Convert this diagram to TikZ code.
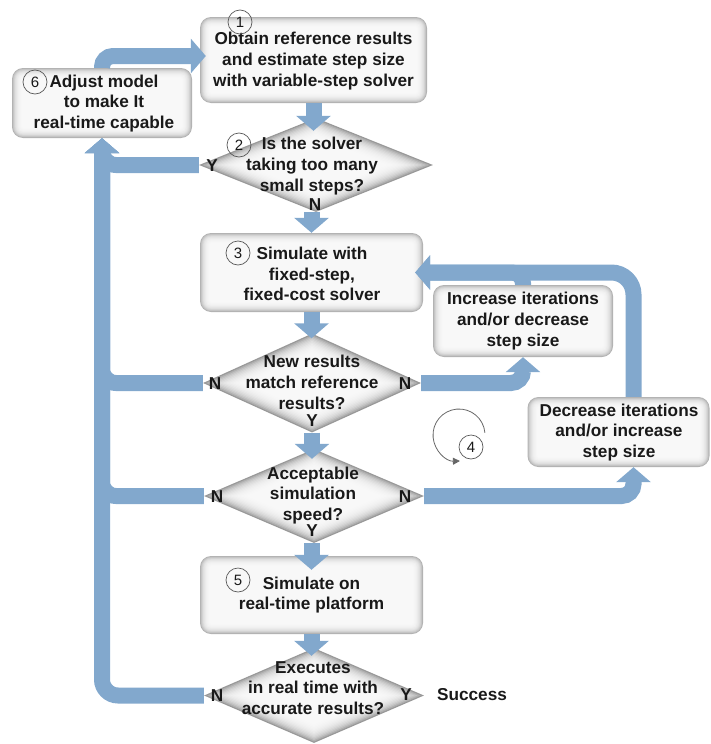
\documentclass[tikz,border=0pt]{standalone}
\usepackage{fontspec}
\setmainfont{Liberation Sans}
\usetikzlibrary{arrows.meta,shapes.geometric,calc}
\definecolor{band}{RGB}{130,168,205}
\definecolor{ink}{RGB}{25,25,25}
\tikzset{
  box/.style={rectangle, rounded corners=11pt, fill=black!30, inner sep=0pt,
    path picture={
      \foreach \i/\r in {0.8/10.2,1.6/9.4,2.4/8.6,3.2/7.8,4/7,4.8/6.2,5.6/5.4,6.4/4.6,7.2/4,8/3.5,8.8/3,9.6/3}{
        \fill[white, fill opacity=0.2, rounded corners=\r pt]
          ([shift={(\i pt,\i pt)}]path picture bounding box.south west) rectangle
          ([shift={(-\i pt,-\i pt)}]path picture bounding box.north east);
      }}},
  dia/.style={diamond, fill=black!40, inner sep=0pt,
    path picture={
      \foreach \s in {0.97,0.94,0.91,0.88,0.85,0.82,0.79,0.76,0.73,0.70,0.67,0.64,0.61}{
        \fill[white, fill opacity=0.22]
          ($(path picture bounding box.center)!\s!(path picture bounding box.north)$) --
          ($(path picture bounding box.center)!\s!(path picture bounding box.east)$) --
          ($(path picture bounding box.center)!\s!(path picture bounding box.south)$) --
          ($(path picture bounding box.center)!\s!(path picture bounding box.west)$) -- cycle;
      }}},
  txt/.style={align=center, text=ink, font=\bfseries\fontsize{17.2}{20.7}\selectfont, inner sep=0pt},
  num/.style={circle, draw=black!65, line width=0.7pt, minimum size=24pt, inner sep=0pt, font=\fontsize{15}{15}\selectfont, text=ink},
  conn/.style={draw=band, line width=16pt, rounded corners=14pt, -{Triangle[width=34pt,length=15pt]}}
}
\begin{document}
\begin{tikzpicture}[x=1pt,y=-1pt]
\useasboundingbox (0,0) rectangle (710,744);

% shapes
\node[box, minimum width=227pt, minimum height=86pt] (b1) at (313.5,60) {};
\node[box, minimum width=180pt, minimum height=70pt] (b6) at (102,103) {};
\node[dia, minimum width=234pt, minimum height=94pt] (d2) at (316,165) {};
\node[box, minimum width=223pt, minimum height=79pt] (b3) at (311.5,272.5) {};
\node[box, minimum width=180pt, minimum height=72pt] (bi) at (523,321) {};
\node[dia, minimum width=218pt, minimum height=99pt] (d3) at (312,383) {};
\node[box, minimum width=182pt, minimum height=70pt] (bd) at (618.5,432) {};
\node[dia, minimum width=220pt, minimum height=94pt] (d4) at (314,496) {};
\node[box, minimum width=223pt, minimum height=78pt] (b5) at (311.5,595) {};
\node[dia, minimum width=220pt, minimum height=95pt] (d5) at (314,695.5) {};

% connectors
\draw[conn, rounded corners=11pt, shorten >=-6pt] (b6.north) |- ([yshift=4pt]b1.west);
\draw[conn, shorten >=-13pt] (b1.south) -- (b1.south |- d2.north);
\draw[conn] (d2.west) -| (b6.south);
\draw[conn] (b3.north |- d2.south) -- (b3.north);
\draw[conn, shorten >=-5pt] (b3.south) -- (b3.south |- d3.north);
\draw[conn, rounded corners=12pt] (d3.east) -| (bi.south);
\draw[conn, rounded corners=11pt, shorten >=-8pt] (bi.north) |- (b3.east);
\draw[conn, rounded corners=22pt, shorten >=-8pt] ([xshift=15pt]bd.north) |- (b3.east);
\draw[conn, rounded corners=12pt] (d4.east) -| ([xshift=15pt]bd.south);
\draw[conn] (d3.west) -| (b6.south);
\draw[conn] (d4.west) -| (b6.south);
\draw[conn, rounded corners=16pt] (d5.west) -| (b6.south);
\draw[conn, shorten >=-10pt] (d3.south) -- (d3.south |- d4.north);
\draw[conn, shorten >=-14pt] (b5.north |- d4.south) -- (b5.north);
\draw[conn, shorten >=-8pt] (b5.south) -- (b5.south |- d5.north);

% texts and numbers
\node[txt] (t1) at (313.5,61) {Obtain reference results\\and estimate step size\\with variable-step solver};
\node[num] (n1) at (240,22) {1};

\node[txt] (t6) at (104,103.5) {Adjust model\\to make It\\real-time capable};
\node[num] (n6) at (35,82) {6};

\node[txt] (t2) at (312,166) {Is the solver\\taking too many\\small steps?};
\node[num] (n2) at (239,145) {2};
\node[txt] (y2) at (212,166) {Y};
\node[txt] (nn2) at (315,205) {N};

\node[txt] (t3) at (312,274) {Simulate with\\fixed-step,\\fixed-cost solver};
\node[num] (n3) at (238,253) {3};

\node[txt] (ti) at (523,321) {Increase iterations\\and/or decrease\\step size};

\node[txt] (td3) at (312,382.5) {New results\\match reference\\results?};
\node[txt] (nl3) at (215,384) {N};
\node[txt] (nr3) at (405,384) {N};
\node[txt] (y3) at (312,421) {Y};

\node[txt] (td) at (619,432.5) {Decrease iterations\\and/or increase\\step size};

\node[txt] (td4) at (313,495.5) {Acceptable\\simulation\\speed?};
\node[txt] (nl4) at (217,497) {N};
\node[txt] (nr4) at (405,497) {N};
\node[txt] (y4) at (312,531) {Y};

\node[txt] (t5) at (311.5,595) {Simulate on\\real-time platform};
\node[num] (n5) at (238,580) {5};

\node[txt] (td5) at (313,688) {Executes\\in real time with\\accurate results?};
\node[txt] (nl5) at (217,696) {N};
\node[txt] (y5) at (406,695) {Y};
\node[txt] (succ) at (472,695) {Success};

% loop symbol 4
\coordinate (c4) at (459,435);
\draw[black!60, line width=0.8pt, -{Triangle[length=7pt,width=7pt]}] ([shift={(5:26pt)}]c4) arc[start angle=5, end angle=272, radius=26pt];
\node[num, fill=white] (n4) at (471,447) {4};
\end{tikzpicture}
\end{document}
